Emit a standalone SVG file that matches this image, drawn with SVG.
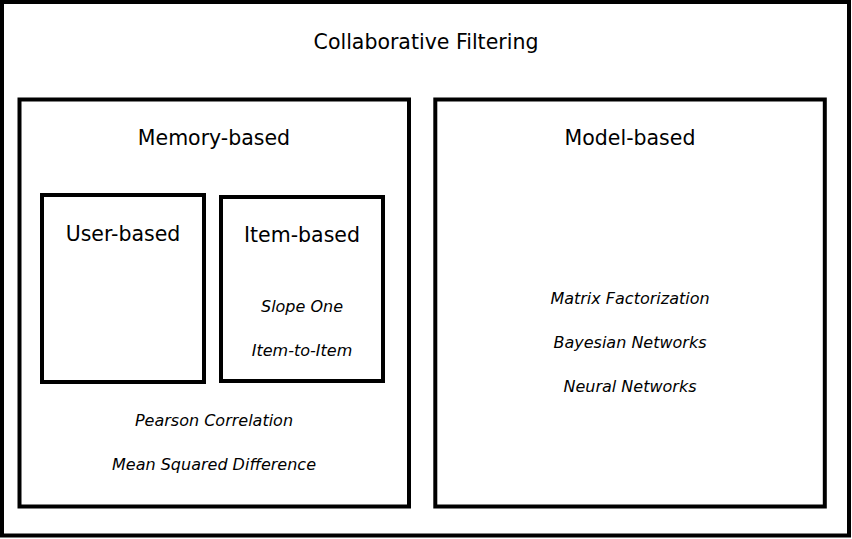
<svg xmlns="http://www.w3.org/2000/svg" width="852" height="539" viewBox="0 0 852 539">
<style>
.box{fill:none;stroke:#000;stroke-width:4}
.t{font-family:"DejaVu Sans",sans-serif;font-size:20.5px;fill:#000;text-anchor:middle}
.i{font-family:"DejaVu Sans",sans-serif;font-size:16px;font-style:italic;fill:#000;text-anchor:middle}
</style>
<rect width="852" height="539" fill="#fff"/>
<g id="collaborative-filtering">
<rect class="box" x="2" y="2" width="847" height="533.5"/>
<text class="t" x="426" y="48.5">Collaborative Filtering</text>
</g>
<g id="memory-based">
<rect class="box" x="19.5" y="99.5" width="389.5" height="407"/>
<text class="t" x="214" y="144.5">Memory-based</text>
<text class="i" x="214" y="426">Pearson Correlation</text>
<text class="i" x="214" y="470">Mean Squared Difference</text>
</g>
<g id="user-based">
<rect class="box" x="42" y="195" width="162" height="187"/>
<text class="t" x="123" y="240.5">User-based</text>
</g>
<g id="item-based">
<rect class="box" x="221" y="197" width="162" height="184"/>
<text class="t" x="302" y="241.5">Item-based</text>
<text class="i" x="302" y="312">Slope One</text>
<text class="i" x="302" y="356">Item-to-Item</text>
</g>
<g id="model-based">
<rect class="box" x="435.3" y="99.5" width="389.5" height="407"/>
<text class="t" x="630" y="144.5">Model-based</text>
<text class="i" x="630" y="304">Matrix Factorization</text>
<text class="i" x="630" y="348">Bayesian Networks</text>
<text class="i" x="630" y="392">Neural Networks</text>
</g>
<g id="connectors"/>
</svg>
